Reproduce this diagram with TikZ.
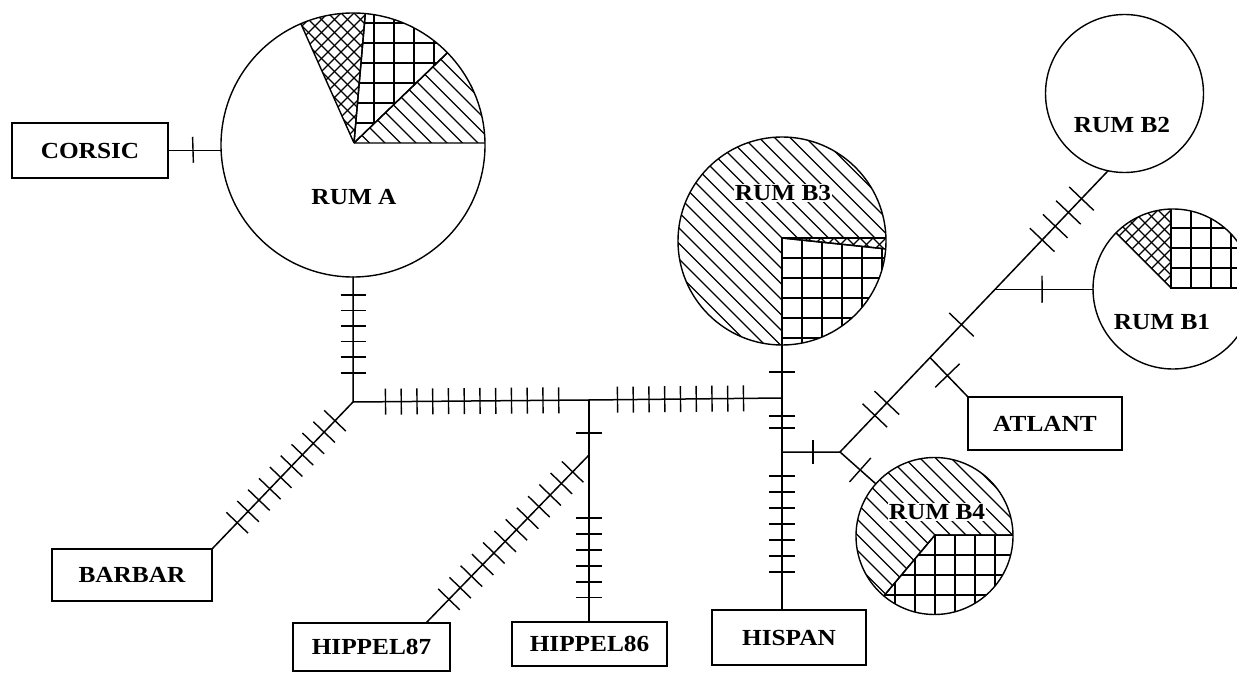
\documentclass[tikz,border=0pt]{standalone}
\usepackage{fontspec}
\newfontfamily\lblfont{Liberation Serif}[FakeStretch=1.1]
\usetikzlibrary{calc}

% hatching patterns, drawn around the sector vertex (pv)
\newcommand\fillNW{\foreach \k in {-20,...,20}{\draw[hatch] ($(pv)+(\k*15.5,0)+(-250,-250)$) -- ++(500,500);}}
\newcommand\fillGrid{\foreach \k in {-15,...,15}{\draw[hatch] ($(pv)+(\k*20,-250)$) -- ++(0,500); \draw[hatch] ($(pv)+(-250,\k*20)$) -- ++(500,0);}}
\newcommand\fillCross{\foreach \k in {-26,...,26}{\draw[hatch] ($(pv)+(\k*13,0)+(-250,-250)$) -- ++(500,500); \draw[hatch] ($(pv)+(\k*13,0)+(-250,250)$) -- ++(500,-500);}}

% #1 circle centre, #2 radius, #3 vertex, #4 start angle, #5 end angle, #6 fill
\newcommand\piesector[6]{%
  \begin{scope}
    \clip #1 circle[radius=#2 pt];
    \begin{scope}
      \clip #3 -- ++(#4:400pt) arc[start angle=#4, end angle=#5, radius=400pt] -- cycle;
      \coordinate (pv) at #3;
      #6
    \end{scope}
    \draw[sectoredge] #3 -- ++(#4:400pt) #3 -- ++(#5:400pt);
  \end{scope}}

% mutation ticks across the segment #1 -> #2 at distances #3 from #1, half length #4
\newcommand\tickrow[4]{\foreach \dd in {#3}{\draw[tk] ($(#1)!\dd pt!(#2)!#4!90:(#2)$) -- ($(#1)!\dd pt!(#2)!#4!-90:(#2)$);}}

\newcommand\lblsize{\fontsize{23}{26}\selectfont}

\tikzset{
  net/.style={line width=1.5pt, line cap=round},
  tk/.style={line width=1.4pt},
  hatch/.style={line width=1.1pt},
  sectoredge/.style={line width=1.4pt},
  box/.style={draw, rectangle, line width=1.4pt, inner sep=0pt, outer sep=0pt,
    font=\lblfont\bfseries\lblsize},
  popcircle/.style={draw, circle, line width=1.4pt, inner sep=0pt, outer sep=0pt},
  poplabel/.style={inner sep=1pt, font=\lblfont\bfseries\lblsize},
}

\begin{document}
\begin{tikzpicture}[x=1pt, y=-1pt]
\useasboundingbox (0,0) rectangle (1237,679);
\clip (0,0) rectangle (1237,679);

% pie fills
\piesector{(353,145)}{132}{(354,143)}{0}{44}{\fillNW}
\piesector{(353,145)}{132}{(354,143)}{44}{85}{\fillGrid}
\piesector{(353,145)}{132}{(354,143)}{85}{114}{\fillCross}
\piesector{(782,241)}{104}{(782,238)}{0}{270}{\fillNW}
\piesector{(782,241)}{104}{(782,238)}{270}{354}{\fillGrid}
\piesector{(782,241)}{104}{(782,238)}{354}{360}{\fillCross}
\piesector{(934.5,536)}{78.5}{(935,535)}{0}{230}{\fillNW}
\piesector{(934.5,536)}{78.5}{(935,535)}{230}{360}{\fillGrid}
\piesector{(1173,289)}{80}{(1171,288)}{0}{90}{\fillGrid}
\piesector{(1173,289)}{80}{(1171,288)}{90}{135}{\fillCross}
\draw[line width=2.4pt] (1171,210) -- (1171,288) -- (1253,288);

% population circles
\node[popcircle, minimum size=264pt] (A)  at (353,145) {};
\node[popcircle, minimum size=208pt] (B3) at (782,241) {};
\node[popcircle, minimum size=158pt] (B2) at (1124.5,93.5) {};
\node[popcircle, minimum size=160pt] (B1) at (1173,289) {};
\node[popcircle, minimum size=157pt] (B4) at (934.5,536) {};

\node[poplabel] (lA)  at (354,197) {RUM A};
\node[poplabel, fill=white] (lB3) at (783,193) {RUM B3};
\node[poplabel] (lB2) at (1122,125) {RUM B2};
\node[poplabel] (lB1) at (1162,322) {RUM B1};
\node[poplabel, fill=white] (lB4) at (937,512) {RUM B4};

% sample boxes
\node[box, minimum width=156pt, minimum height=55pt] (corsic) at (90,150.5) {CORSIC};
\node[box, minimum width=160pt, minimum height=52pt] (barbar) at (132,575) {BARBAR};
\node[box, minimum width=157pt, minimum height=48pt] (h87) at (371.5,647) {HIPPEL87};
\node[box, minimum width=155pt, minimum height=44pt] (h86) at (589.5,644) {HIPPEL86};
\node[box, minimum width=154pt, minimum height=55pt] (hispan) at (789,637.5) {HISPAN};
\node[box, minimum width=154pt, minimum height=53pt] (atlant) at (1045,423.5) {ATLANT};

% junctions
\coordinate (j1) at (353,402);
\coordinate (j2) at (589,400);
\coordinate (j3) at (782,398);
\coordinate (j4) at (589,455);
\coordinate (j5) at (782,452);
\coordinate (j6) at (840,452);
\coordinate (b2e) at (B2.258);
\coordinate (j7) at ($(j6)!0.3358!(b2e)$);
\coordinate (j8) at ($(j6)!0.5784!(b2e)$);
\coordinate (h87in) at (426,623);

% connectors
\draw[net] (corsic.east) -- (corsic.east -| A.west);
\draw[net] (A) -- (j1) -- (j2) -- (j3);
\draw[net] (B3) -- (j3) -- (j3 |- hispan.north);
\draw[net] (j2) -- (j2 |- h86.north);
\draw[net] (j4) -- (h87in);
\draw[net] (j1) -- (barbar.north east);
\draw[net] (j5) -- (j6) -- (B4);
\draw[net] (j6) -- (b2e);
\draw[net] (j7) -- (atlant.north west);
\draw[net] (j8) -- (j8 -| B1.west);

% ticks
\tickrow{corsic.east}{A}{25}{13pt}
\tickrow{j1}{A}{29,45,60.5,76,91.5,107}{12.5pt}
\tickrow{j1}{j2}{32.5,48.25,64,79.75,95.5,111.25,127,142.75,158.5,174.25,190,205.75}{13pt}
\tickrow{j2}{j3}{28.5,44.25,60,75.75,91.5,107.25,123,138.75,154.5}{13pt}
\tickrow{j2}{j4}{33,118,134,150,166,182,197.5}{13pt}
\tickrow{j4}{h87in}{23.5,39.65,55.8,71.95,88.1,104.25,120.4,136.55,152.7,168.85,185,201.15}{15pt}
\tickrow{j1}{barbar.north east}{26,41.7,57.4,73.1,88.8,104.5,120.2,135.9,151.6,167.3}{15pt}
\tickrow{j3}{B3}{26}{13pt}
\tickrow{j3}{j5}{18,30,78,94,110,126,142,158,174}{13pt}
\tickrow{j5}{j6}{31}{12pt}
\tickrow{j6}{B4}{27}{16pt}
\tickrow{j6}{b2e}{50.5,67.9,176,293,312,331,350}{17pt}
\tickrow{j7}{atlant.north west}{25}{17pt}
\tickrow{j8}{B1}{47}{13.5pt}
\end{tikzpicture}
\end{document}
